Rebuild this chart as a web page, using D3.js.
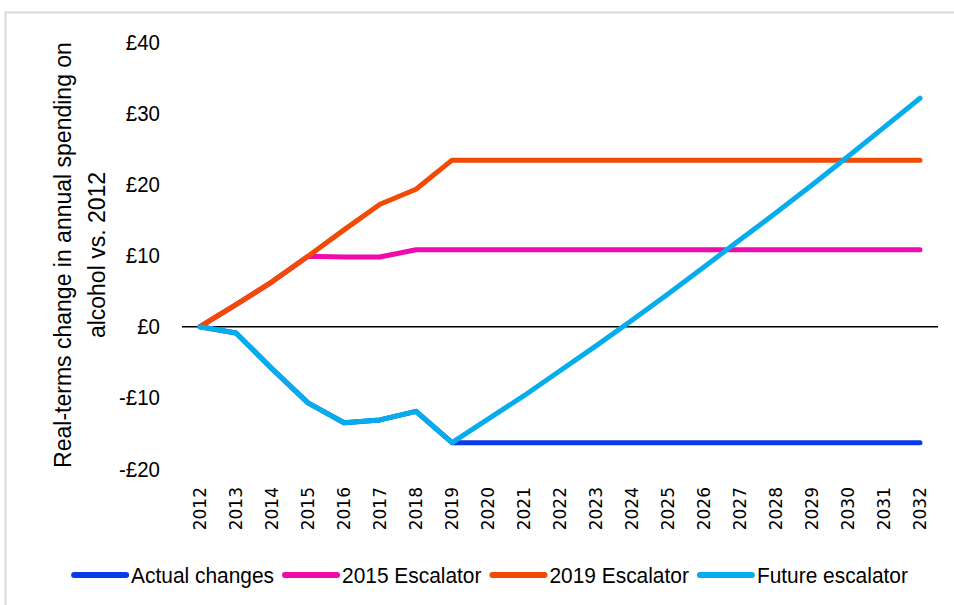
<!DOCTYPE html>
<html>
<head>
<meta charset="utf-8">
<script src="https://d3js.org/d3.v7.min.js"></script>
<style>
  body { margin: 0; background: #fff; }
  text { font-family: "Liberation Sans", Arial, sans-serif; fill: #000; }
  .x-axis text { font-family: "DejaVu Sans", sans-serif; }
</style>
</head>
<body>
<div id="chart"></div>
<script>
  const years = ["2012","2013","2014","2015","2016","2017","2018","2019","2020","2021","2022",
                 "2023","2024","2025","2026","2027","2028","2029","2030","2031","2032"];

  const actualChanges = [0, -0.9, -5.9, -10.7, -13.5, -13.1, -11.9, -16.3, -16.3, -16.3, -16.3,
                         -16.3, -16.3, -16.3, -16.3, -16.3, -16.3, -16.3, -16.3, -16.3, -16.3];
  const escalator2015 = [0, 3.1, 6.3, 9.9, 9.8, 9.8, 10.8, 10.8, 10.8, 10.8, 10.8,
                         10.8, 10.8, 10.8, 10.8, 10.8, 10.8, 10.8, 10.8, 10.8, 10.8];
  const escalator2019 = [0, 3.1, 6.3, 9.9, 13.6, 17.2, 19.3, 23.4, 23.4, 23.4, 23.4,
                         23.4, 23.4, 23.4, 23.4, 23.4, 23.4, 23.4, 23.4, 23.4, 23.4];
  const futureEscalator = [0, -0.9, -5.9, -10.7, -13.5, -13.1, -11.9, -16.3, -13.0, -9.7, -6.2,
                           -2.7, 0.9, 4.6, 8.4, 12.2, 16.0, 19.9, 23.9, 28.0, 32.1];

  const yTicks = [-20, -10, 0, 10, 20, 30, 40];

  const series = [
    { name: "Actual changes", values: actualChanges, color: "#0a3be8" },
    { name: "2015 Escalator", values: escalator2015, color: "#ee0aab" },
    { name: "2019 Escalator", values: escalator2019, color: "#f04a05" },
    { name: "Future escalator", values: futureEscalator, color: "#06adec" }
  ];

  const width = 954, height = 605;
  const svg = d3.select("#chart").append("svg")
    .attr("width", width)
    .attr("height", height);

  // light frame round the chart
  svg.append("rect")
    .attr("x", 5.5).attr("y", 12.5)
    .attr("width", 980).attr("height", 640)
    .attr("fill", "none")
    .attr("stroke", "#d9d9d9")
    .attr("stroke-width", 2);

  const x = d3.scaleBand().domain(years).range([182, 938]);
  const xc = d => x(d) + x.bandwidth() / 2;
  const y = d3.scaleLinear().domain([-20, 40]).range([469, 42]);

  // y labels
  const yAxis = svg.append("g")
    .attr("transform", "translate(182,0)")
    .call(d3.axisLeft(y).tickValues(yTicks).tickSize(0).tickPadding(22)
      .tickFormat(d => d < 0 ? "-£" + Math.abs(d) : "£" + d));
  yAxis.select(".domain").remove();
  yAxis.selectAll("text")
    .style("font-size", "22px")
    .style("font-family", "'Liberation Sans', Arial, sans-serif")
    .each(function() {
      const t = d3.select(this);
      t.attr("textLength", this.getComputedTextLength() * 0.93).attr("lengthAdjust", "spacingAndGlyphs");
    });

  // x labels (rotated)
  const xAxis = svg.append("g")
    .attr("class", "x-axis")
    .attr("transform", "translate(0,480)")
    .call(d3.axisBottom(x).tickSize(0));
  xAxis.select(".domain").remove();
  xAxis.selectAll("text")
    .style("font-size", "17px")
    .style("font-family", "'DejaVu Sans', sans-serif")
    .attr("transform", "rotate(-90)")
    .attr("text-anchor", "end")
    .attr("x", -7)
    .attr("y", 0)
    .attr("dy", "0.36em");

  // zero line
  svg.append("line")
    .attr("x1", 182).attr("x2", 938)
    .attr("y1", y(0)).attr("y2", y(0))
    .attr("stroke", "#000")
    .attr("stroke-width", 1.5);

  const line = d3.line()
    .x((d, i) => xc(years[i]))
    .y(d => y(d));

  svg.selectAll("path.series")
    .data(series)
    .enter()
    .append("path")
    .attr("class", "series")
    .attr("d", d => line(d.values))
    .attr("fill", "none")
    .attr("stroke", d => d.color)
    .attr("stroke-width", 5)
    .attr("stroke-linejoin", "round")
    .attr("stroke-linecap", "round");

  // y axis title
  const title = svg.append("text")
    .attr("transform", "translate(71,255) rotate(-90)")
    .attr("text-anchor", "middle")
    .style("font-size", "23px");
  title.append("tspan").attr("x", 0).attr("y", 0).text("Real-terms change in annual spending on");
  title.append("tspan").attr("x", 0).attr("y", 34).text("alcohol vs. 2012");

  // legend
  const legend = svg.append("g").attr("transform", "translate(0,575)");
  const items = legend.selectAll("g")
    .data(series)
    .enter()
    .append("g");
  items.append("line")
    .attr("x1", 0).attr("x2", 52)
    .attr("stroke", d => d.color)
    .attr("stroke-width", 6)
    .attr("stroke-linecap", "round");
  items.append("text")
    .attr("x", 57)
    .attr("dy", "0.35em")
    .style("font-size", "22px")
    .text(d => d.name);

  let pos = 0;
  const starts = [];
  items.each(function() {
    const txt = d3.select(this).select("text");
    const w = txt.node().getComputedTextLength() * 0.95;
    txt.attr("textLength", w).attr("lengthAdjust", "spacingAndGlyphs");
    starts.push(pos);
    pos += 57 + w + 11;
  });
  const total = pos - 11;
  const left = 491 - total / 2;
  items.attr("transform", (d, i) => `translate(${left + starts[i]},0)`);
</script>
</body>
</html>
